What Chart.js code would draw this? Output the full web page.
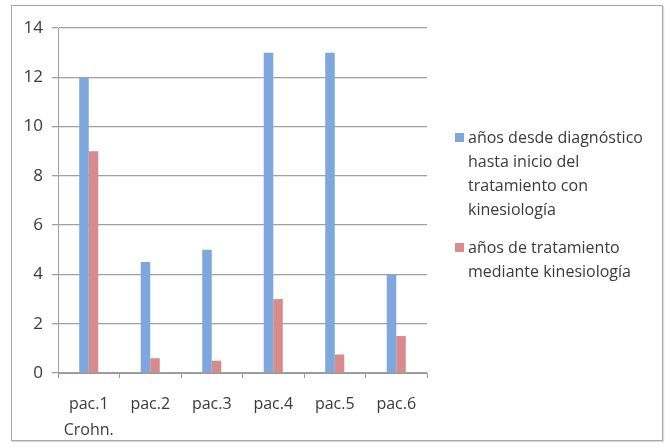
<!DOCTYPE html>
<html>
<head>
<meta charset="utf-8">
<script src="https://cdn.jsdelivr.net/npm/chart.js@4"></script>
<style>
  html, body { margin: 0; padding: 0; background: #fff; }
  #wrap { position: relative; width: 670px; height: 448px; overflow: hidden; }
  #frame { position: absolute; left: 11px; top: 5px; width: 650px; height: 434px; border: 1px solid #a6a6a6; box-shadow: 1px 1px 1px #ddd; }
  canvas { position: absolute; left: 0; top: 0; }
  .leg { position: absolute; left: 468px; font-family: "Open Sans", sans-serif; font-size: 16px; line-height: 24px; color: #3a3a3a; }
  .sw { position: absolute; left: -13px; top: 8px; width: 9px; height: 9px; }
</style>
</head>
<body>
<div id="wrap">
  <div id="frame"></div>
  <canvas id="c" width="670" height="448"></canvas>
  <div class="leg" style="top:125px"><span class="sw" style="background:#7da7dd"></span>años desde diagnóstico<br>hasta inicio del<br>tratamiento con<br>kinesiología</div>
  <div class="leg" style="top:235px"><span class="sw" style="background:#d98b8b"></span>años de tratamiento<br>mediante kinesiología</div>
</div>
<script>
const categories = [["pac.1", "Crohn."], "pac.2", "pac.3", "pac.4", "pac.5", "pac.6"];
const seriesNames = ["años desde diagnóstico hasta inicio del tratamiento con kinesiología", "años de tratamiento mediante kinesiología"];
const yearsToTreatment = [12, 4.5, 5, 13, 13, 4];
const yearsOfTreatment = [9, 0.6, 0.5, 3, 0.75, 1.5];
const yTicks = [0, 2, 4, 6, 8, 10, 12, 14];

const font = { family: '"Open Sans", sans-serif', size: 16 };
new Chart(document.getElementById('c'), {
  type: 'bar',
  data: {
    labels: categories,
    datasets: [
      { label: seriesNames[0], data: yearsToTreatment, backgroundColor: '#7da7dd' },
      { label: seriesNames[1], data: yearsOfTreatment, backgroundColor: '#d98b8b' }
    ]
  },
  options: {
    responsive: false,
    animation: false,
    devicePixelRatio: 1,
    layout: { padding: { left: 0, right: 243, top: 28, bottom: 0 } },
    plugins: { legend: { display: false }, tooltip: { enabled: false } },
    datasets: { bar: { categoryPercentage: 0.31, barPercentage: 1 } },
    scales: {
      x: {
        grid: { display: true, drawOnChartArea: false, drawTicks: true, tickLength: 5, color: '#999' },
        border: { color: '#999', width: 1 },
        ticks: { color: '#3a3a3a', font: Object.assign({ lineHeight: 1.6 }, font), padding: 14, maxRotation: 0, autoSkip: false },
        afterFit: s => { s.height = 75; }
      },
      y: {
        min: 0, max: 14,
        afterBuildTicks: s => { s.ticks = yTicks.map(v => ({ value: v })); },
        grid: { color: '#a0a0a0', lineWidth: 1.3, tickLength: 6 },
        border: { color: '#a0a0a0', width: 1 },
        ticks: { color: '#3a3a3a', font: Object.assign({}, font, { size: 17 }), padding: 9 },
        afterFit: s => { s.width = 58; }
      }
    }
  }
});
</script>
</body>
</html>
